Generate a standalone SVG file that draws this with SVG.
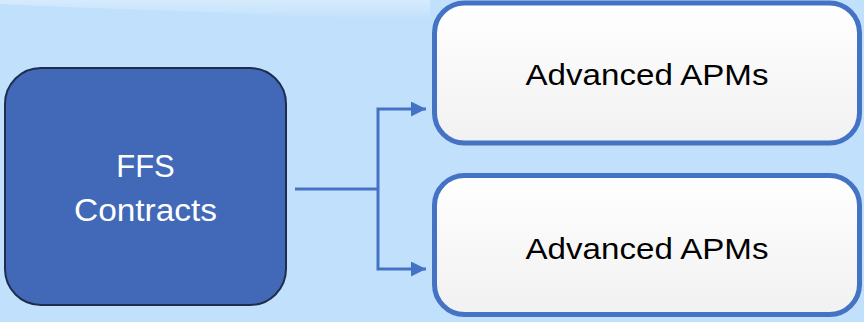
<svg xmlns="http://www.w3.org/2000/svg" width="864" height="322" viewBox="0 0 864 322">
<defs>
<linearGradient id="wg" x1="0" y1="0" x2="0" y2="1">
<stop offset="0" stop-color="#FFFFFF"/>
<stop offset="1" stop-color="#F1F1F1"/>
</linearGradient>
<linearGradient id="sky" x1="0" y1="0" x2="0" y2="1">
<stop offset="0" stop-color="#DCEEFD"/>
<stop offset="1" stop-color="#C0E0FC"/>
</linearGradient>
<marker id="ah" markerWidth="5" markerHeight="5" refX="5" refY="2.5" orient="auto" markerUnits="strokeWidth">
<path d="M0,0 L5,2.5 L0,5 Z" fill="#4472C4"/>
</marker>
<style>
.wbox{fill:url(#wg);stroke:#4472C4;stroke-width:5}
.wtxt{font-family:"Liberation Sans",Arial,sans-serif;font-size:30px;fill:#000;text-anchor:middle}
.btxt{font-family:"Liberation Sans",Arial,sans-serif;font-size:31px;fill:#FFF;text-anchor:middle}
.conn{fill:none;stroke:#4472C4;stroke-width:3}
</style>
</defs>
<rect width="864" height="322" fill="#C0E0FC"/>
<path d="M0,0 H430 V20 C340,18 250,14 150,10 C90,8 40,6 0,4 Z" fill="url(#sky)" opacity="0.8"/>
<g id="ffs">
<rect x="5" y="68" width="281" height="237" rx="36" fill="#4169B8" stroke="#1F2D4D" stroke-width="2"/>
<text class="btxt" x="145.5" y="177">FFS</text>
<text class="btxt" x="145.5" y="221" textLength="143" lengthAdjust="spacingAndGlyphs">Contracts</text>
</g>
<g id="apm1">
<rect class="wbox" x="434.5" y="3" width="425" height="140" rx="30"/>
<text class="wtxt" x="647" y="85" textLength="243" lengthAdjust="spacingAndGlyphs">Advanced APMs</text>
</g>
<g id="apm2">
<rect class="wbox" x="434.5" y="175.5" width="425" height="139" rx="30"/>
<text class="wtxt" x="647" y="259" textLength="243" lengthAdjust="spacingAndGlyphs">Advanced APMs</text>
</g>
<g id="connectors">
<path class="conn" d="M295,189 H378"/>
<path class="conn" d="M378,189 V109 H426" marker-end="url(#ah)"/>
<path class="conn" d="M378,189 V269 H426" marker-end="url(#ah)"/>
</g>
</svg>
